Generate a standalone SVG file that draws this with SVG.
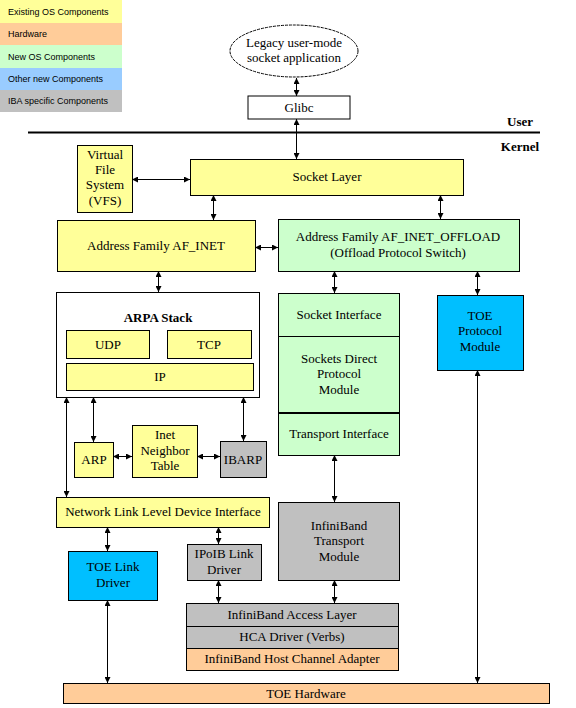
<svg xmlns="http://www.w3.org/2000/svg" width="576" height="708" viewBox="0 0 576 708">
<style>
.b{stroke:#000;stroke-width:1}
.y{fill:#ffff99}.g{fill:#ccffcc}.gr{fill:#c0c0c0}.o{fill:#ffcc99}.c{fill:#00bfff}.w{fill:#fff}
text{font-family:"Liberation Serif","Times New Roman",serif;font-size:13px;fill:#000;text-anchor:middle}
.lg{font-family:"Liberation Sans",Arial,sans-serif;font-size:9px;text-anchor:start}
.bd{font-weight:bold}
.cn line{stroke:#000;stroke-width:1}
</style>
<defs>
<marker id="a" viewBox="0 0 6 6" refX="6" refY="3" markerWidth="6" markerHeight="6" orient="auto-start-reverse" markerUnits="userSpaceOnUse">
<path d="M0,0 L6,3 L0,6 z" fill="#000"/>
</marker>
</defs>
<rect width="576" height="708" fill="#fff"/>
<g id="legend">
<rect x="0" y="0" width="122" height="23" class="y"/>
<rect x="0" y="23" width="122" height="22" class="o"/>
<rect x="0" y="45" width="122" height="23" class="g"/>
<rect x="0" y="68" width="122" height="22" fill="#99ccff"/>
<rect x="0" y="90" width="122" height="22" class="gr"/>
<text class="lg" x="8" y="15">Existing OS Components</text>
<text class="lg" x="8" y="37">Hardware</text>
<text class="lg" x="8" y="60">New OS Components</text>
<text class="lg" x="8" y="82">Other new Components</text>
<text class="lg" x="8" y="104">IBA specific Components</text>
</g>
<g id="app">
<ellipse cx="294" cy="51" rx="64" ry="26" fill="#fff" stroke="#000" stroke-width="1" stroke-dasharray="3 1"/>
<text x="294" y="47">Legacy user-mode</text>
<text x="294" y="62">socket application</text>
</g>
<g id="glibc"><rect x="248" y="96" width="102" height="23" class="w b"/><text x="299" y="112">Glibc</text></g>
<g id="boundary">
<line x1="28" y1="132.5" x2="540" y2="132.5" stroke="#000" stroke-width="2"/>
<text class="bd" x="520" y="126" font-size="12">User</text>
<text class="bd" x="520" y="151" font-size="12">Kernel</text>
</g>
<g id="vfs"><rect x="77.5" y="145.5" width="55" height="67" class="y b"/>
<text x="105" y="159">Virtual</text><text x="105" y="174">File</text><text x="105" y="189">System</text><text x="105" y="205">(VFS)</text></g>
<g id="socketlayer"><rect x="190.5" y="159.5" width="273" height="36" class="y b"/><text x="327" y="181">Socket Layer</text></g>
<g id="afinet"><rect x="57.5" y="220.5" width="198" height="51" class="y b"/><text x="156" y="250">Address Family AF_INET</text></g>
<g id="offload"><rect x="278.5" y="219.5" width="241" height="52" class="g b"/>
<text x="398" y="241">Address Family AF_INET_OFFLOAD</text><text x="398" y="257">(Offload Protocol Switch)</text></g>
<g id="arpa"><rect x="56.5" y="292.5" width="203" height="105" class="w b"/>
<text class="bd" x="158" y="322">ARPA Stack</text></g>
<g id="udp"><rect x="66.5" y="330.5" width="83" height="28" class="y b"/><text x="108" y="349">UDP</text></g>
<g id="tcp"><rect x="167.5" y="330.5" width="84" height="28" class="y b"/><text x="209" y="349">TCP</text></g>
<g id="ip"><rect x="66.5" y="363.5" width="187" height="27" class="y b"/><text x="160" y="381">IP</text></g>
<g id="arp"><rect x="74.5" y="442.5" width="39" height="35" class="y b"/><text x="94" y="464">ARP</text></g>
<g id="neighbor"><rect x="132.5" y="425.5" width="65" height="52" class="y b"/>
<text x="165" y="439">Inet</text><text x="165" y="455">Neighbor</text><text x="165" y="470">Table</text></g>
<g id="ibarp"><rect x="220.5" y="441.5" width="46" height="36" class="gr b"/><text x="243" y="464">IBARP</text></g>
<g id="sdp"><rect x="278.5" y="293.5" width="121" height="162" class="g b"/>
<line x1="278.5" y1="336.5" x2="399.5" y2="336.5" stroke="#000"/>
<line x1="278.5" y1="413" x2="399.5" y2="413" stroke="#000" stroke-width="2"/>
<text x="339" y="319">Socket Interface</text>
<text x="339" y="363">Sockets Direct</text><text x="339" y="378">Protocol</text><text x="339" y="394">Module</text>
<text x="339" y="438">Transport Interface</text></g>
<g id="toeproto"><rect x="437.5" y="295.5" width="86" height="75" class="c b"/>
<text x="480" y="320">TOE</text><text x="480" y="335">Protocol</text><text x="480" y="351">Module</text></g>
<g id="netlink"><rect x="56.5" y="497.5" width="213" height="30" class="y b"/><text x="163" y="516">Network Link Level Device Interface</text></g>
<g id="ibtransport"><rect x="278.5" y="502.5" width="121" height="78" class="gr b"/>
<text x="339" y="530">InfiniBand</text><text x="339" y="545">Transport</text><text x="339" y="561">Module</text></g>
<g id="toelink"><rect x="68.5" y="551.5" width="89" height="49" class="c b"/>
<text x="113" y="571">TOE Link</text><text x="113" y="587">Driver</text></g>
<g id="ipoib"><rect x="187.5" y="544.5" width="74" height="36" class="gr b"/>
<text x="224" y="558">IPoIB Link</text><text x="224" y="574">Driver</text></g>
<g id="ibaccess"><rect x="186.5" y="603.5" width="212" height="23" class="gr b"/><text x="292" y="619">InfiniBand Access Layer</text></g>
<g id="hca"><rect x="186.5" y="626.5" width="212" height="22" class="gr b"/><text x="292" y="641">HCA Driver (Verbs)</text></g>
<g id="hcaadapter"><rect x="186.5" y="648.5" width="212" height="22" class="o b"/><text x="292" y="663">InfiniBand Host Channel Adapter</text></g>
<g id="toehw"><rect x="63.5" y="683.5" width="486" height="20" class="o b"/><text x="306" y="698">TOE Hardware</text></g>
<g id="connectors" class="cn">
<line x1="296.5" y1="78" x2="296.5" y2="96" marker-start="url(#a)" marker-end="url(#a)"/>
<line x1="296.5" y1="119" x2="296.5" y2="159" marker-start="url(#a)" marker-end="url(#a)"/>
<line x1="132" y1="179.5" x2="190" y2="179.5" marker-start="url(#a)" marker-end="url(#a)"/>
<line x1="213.5" y1="195" x2="213.5" y2="220" marker-start="url(#a)" marker-end="url(#a)"/>
<line x1="440.5" y1="195" x2="440.5" y2="219" marker-start="url(#a)" marker-end="url(#a)"/>
<line x1="255" y1="247.5" x2="278" y2="247.5" marker-start="url(#a)" marker-end="url(#a)"/>
<line x1="158.5" y1="271" x2="158.5" y2="292" marker-start="url(#a)" marker-end="url(#a)"/>
<line x1="334.5" y1="271" x2="334.5" y2="293" marker-start="url(#a)" marker-end="url(#a)"/>
<line x1="477.5" y1="271" x2="477.5" y2="295" marker-start="url(#a)" marker-end="url(#a)"/>
<line x1="66.5" y1="397" x2="66.5" y2="497" marker-start="url(#a)" marker-end="url(#a)"/>
<line x1="93.5" y1="397" x2="93.5" y2="442" marker-start="url(#a)" marker-end="url(#a)"/>
<line x1="243.5" y1="397" x2="243.5" y2="441" marker-start="url(#a)" marker-end="url(#a)"/>
<line x1="113" y1="456.5" x2="132" y2="456.5" marker-start="url(#a)" marker-end="url(#a)"/>
<line x1="197" y1="456.5" x2="220" y2="456.5" marker-start="url(#a)" marker-end="url(#a)"/>
<line x1="334.5" y1="455" x2="334.5" y2="502" marker-start="url(#a)" marker-end="url(#a)"/>
<line x1="107.5" y1="527" x2="107.5" y2="551" marker-start="url(#a)" marker-end="url(#a)"/>
<line x1="218.5" y1="527" x2="218.5" y2="544" marker-start="url(#a)" marker-end="url(#a)"/>
<line x1="218.5" y1="580" x2="218.5" y2="603" marker-start="url(#a)" marker-end="url(#a)"/>
<line x1="334.5" y1="580" x2="334.5" y2="603" marker-start="url(#a)" marker-end="url(#a)"/>
<line x1="107.5" y1="600" x2="107.5" y2="683" marker-start="url(#a)" marker-end="url(#a)"/>
<line x1="477.5" y1="370" x2="477.5" y2="683" marker-start="url(#a)" marker-end="url(#a)"/>
</g>
</svg>
